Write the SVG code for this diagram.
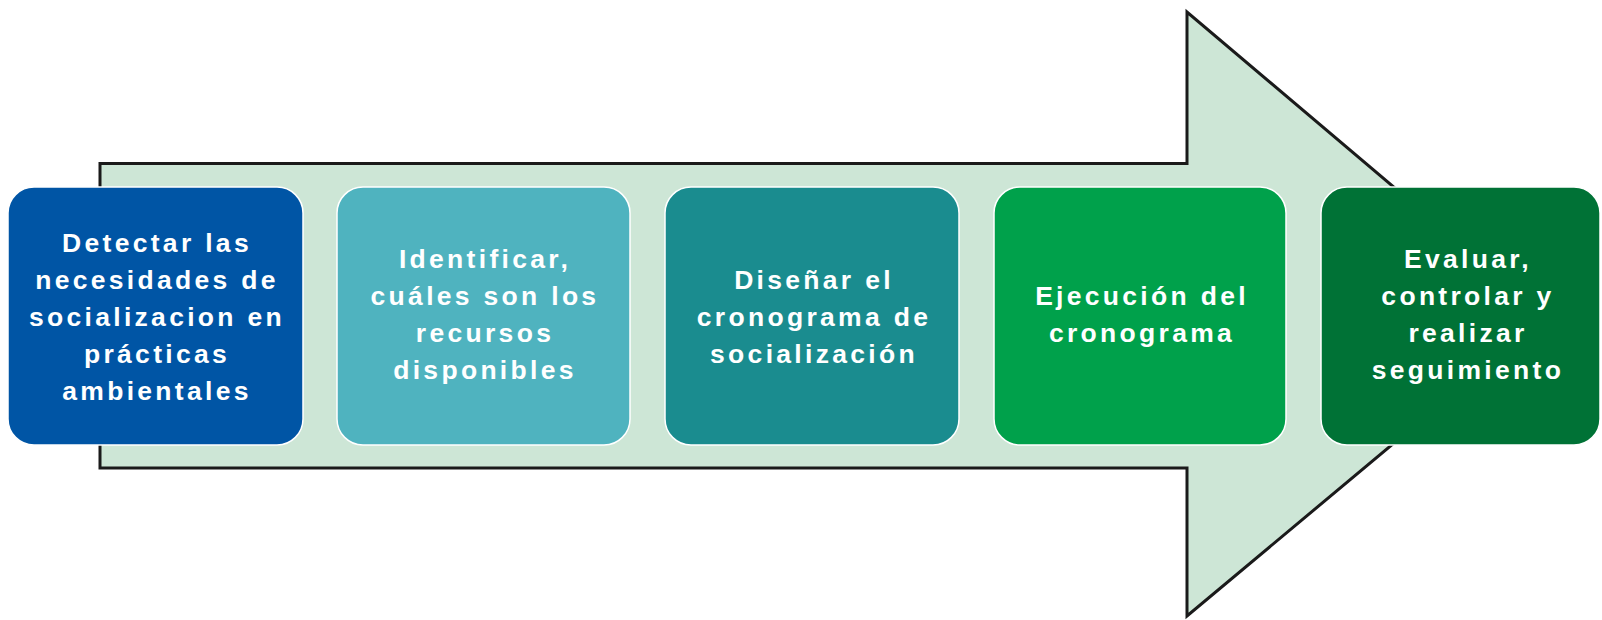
<svg xmlns="http://www.w3.org/2000/svg" width="1602" height="620" viewBox="0 0 1602 620">
<style>
.box{stroke:#ffffff;stroke-width:1.5}
.t{font-family:"Liberation Sans",Arial,sans-serif;font-weight:bold;font-size:26.5px;letter-spacing:3.3px;fill:#ffffff;text-anchor:middle}
</style>
<rect width="1602" height="620" fill="#ffffff"/>
<g id="connectors">
<path d="M100,163.5 H1187 V12 L1546,316 L1187,616 V468 H100 Z" fill="#cde6d6" stroke="#1a1a1a" stroke-width="3" stroke-linejoin="miter"/>
</g>
<g id="n1">
<rect class="box" x="8" y="187" width="295" height="258" rx="26" fill="#0055a5"/>
<text class="t"><tspan x="157" y="252">Detectar las</tspan><tspan x="157" y="289">necesidades de</tspan><tspan x="157" y="326">socializacion en</tspan><tspan x="157" y="363">prácticas</tspan><tspan x="157" y="400">ambientales</tspan></text>
</g>
<g id="n2">
<rect class="box" x="337" y="187" width="293" height="258" rx="26" fill="#4fb3bf"/>
<text class="t"><tspan x="485" y="268">Identificar,</tspan><tspan x="485" y="305">cuáles son los</tspan><tspan x="485" y="342">recursos</tspan><tspan x="485" y="379">disponibles</tspan></text>
</g>
<g id="n3">
<rect class="box" x="665" y="187" width="294" height="258" rx="26" fill="#1a8c8f"/>
<text class="t"><tspan x="814" y="289">Diseñar el</tspan><tspan x="814" y="326">cronograma de</tspan><tspan x="814" y="363">socialización</tspan></text>
</g>
<g id="n4">
<rect class="box" x="994" y="187" width="292" height="258" rx="26" fill="#00a14b"/>
<text class="t"><tspan x="1142" y="305">Ejecución del</tspan><tspan x="1142" y="342">cronograma</tspan></text>
</g>
<g id="n5">
<rect class="box" x="1321" y="187" width="279" height="258" rx="26" fill="#007236"/>
<text class="t"><tspan x="1468" y="268">Evaluar,</tspan><tspan x="1468" y="305">controlar y</tspan><tspan x="1468" y="342">realizar</tspan><tspan x="1468" y="379">seguimiento</tspan></text>
</g>
</svg>
